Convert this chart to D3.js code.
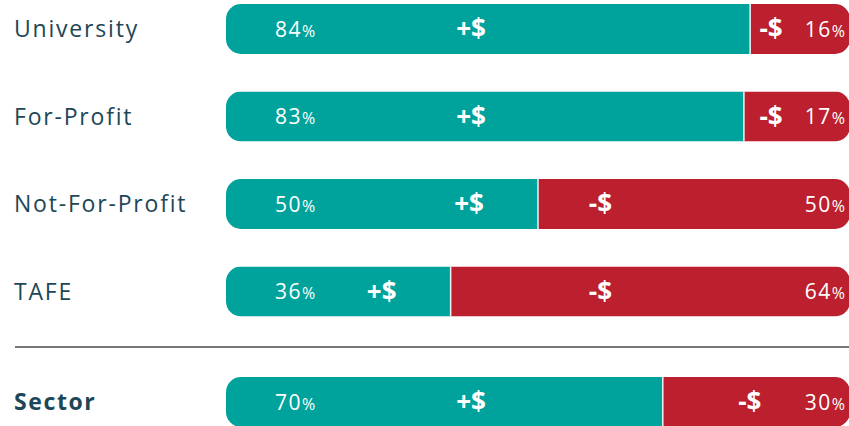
<!DOCTYPE html>
<html>
<head>
<meta charset="utf-8">
<script src="https://cdn.jsdelivr.net/npm/d3@7"></script>
<style>
  html, body { margin: 0; padding: 0; background: #fff; }
  svg { display: block; font-family: "Open Sans", Lato, sans-serif; }
</style>
</head>
<body>
<svg id="chart"></svg>
<script>
var categories = ['University', 'For-Profit', 'Not-For-Profit', 'TAFE'];
var positive = [84, 83, 50, 36];
var negative = [16, 17, 50, 64];
var sectorLabel = 'Sector';
var sectorPositive = 70;
var sectorNegative = 30;

document.addEventListener('DOMContentLoaded', () => {
  var width = 849, height = 426;
  var teal = '#00a39b', red = '#bc1f2e', ink = '#1d4756';
  var barH = 50, radius = 15;

  var svg = d3.select('#chart')
    .attr('width', width)
    .attr('height', height);

  var x = d3.scaleLinear()
    .domain([0, 100])
    .range([226, 850]);

  var y = d3.scaleBand()
    .domain(categories)
    .range([4, 4 + 4 * barH + 3 * 37.5])
    .paddingInner(0.4286)
    .paddingOuter(0);

  var rows = categories.map((c, i) => ({ name: c, pos: positive[i], neg: negative[i], top: y(c), bold: false }));
  rows.push({ name: sectorLabel, pos: sectorPositive, neg: sectorNegative, top: 377, bold: true });

  var defs = svg.append('defs');

  rows.forEach((d, i) => {
    defs.append('clipPath').attr('id', 'clip' + i)
      .append('rect')
      .attr('x', x(0)).attr('y', d.top)
      .attr('width', x(100) - x(0)).attr('height', barH)
      .attr('rx', radius).attr('ry', radius);
  });

  // divider
  svg.append('line')
    .attr('x1', 15).attr('x2', width)
    .attr('y1', 347).attr('y2', 347)
    .attr('stroke', '#777').attr('stroke-width', 2);

  var g = svg.selectAll('.row')
    .data(rows)
    .enter().append('g')
    .attr('class', 'row');

  g.append('text')
    .attr('x', 14)
    .attr('y', d => d.top + barH / 2)
    .attr('dy', '0.36em')
    .attr('fill', ink)
    .attr('font-size', 23)
    .attr('letter-spacing', d => d.bold ? 1.6 : 1.8)
    .attr('font-weight', d => d.bold ? 700 : 400)
    .text(d => d.name);

  var bars = g.append('g')
    .attr('clip-path', (d, i) => 'url(#clip' + i + ')');

  bars.append('rect')
    .attr('x', x(0))
    .attr('y', d => d.top)
    .attr('width', d => x(d.pos) - x(0))
    .attr('height', barH)
    .attr('fill', teal);

  bars.append('rect')
    .attr('x', d => x(d.pos))
    .attr('y', d => d.top)
    .attr('width', d => x(100) - x(d.pos))
    .attr('height', barH)
    .attr('fill', red);

  bars.append('line')
    .attr('x1', d => x(d.pos)).attr('x2', d => x(d.pos))
    .attr('y1', d => d.top).attr('y2', d => d.top + barH)
    .attr('stroke', '#f2f2f2').attr('stroke-width', 1.5);

  // percentage labels
  var pctText = (sel, anchor, xf, val) => {
    var t = sel.append('text')
      .attr('x', xf)
      .attr('y', d => d.top + barH / 2)
      .attr('dy', '0.38em')
      .attr('text-anchor', anchor)
      .attr('fill', '#fff')
      .attr('font-size', 21)
      .attr('letter-spacing', 1.5);
    t.append('tspan').text(val);
    t.append('tspan').attr('font-size', 16).attr('letter-spacing', 0).text('%');
  };
  pctText(g, 'start', 275, d => d.pos);
  pctText(g, 'end', 845, d => d.neg);

  // +$ / -$ markers
  g.append('text')
    .attr('x', d => Math.min(471, x(d.pos) - 69))
    .attr('y', d => d.top + barH / 2)
    .attr('dy', '0.36em')
    .attr('text-anchor', 'middle')
    .attr('fill', '#fff')
    .attr('font-size', 26)
    .attr('font-weight', 700)
    .text('+$');

  g.append('text')
    .attr('x', d => d.pos > 60 ? Math.min(x(d.pos) + 87, x(100) - 79) : x(60))
    .attr('y', d => d.top + barH / 2)
    .attr('dy', '0.36em')
    .attr('text-anchor', 'middle')
    .attr('fill', '#fff')
    .attr('font-size', 26)
    .attr('font-weight', 700)
    .text('-$');
});
</script>
</body>
</html>
